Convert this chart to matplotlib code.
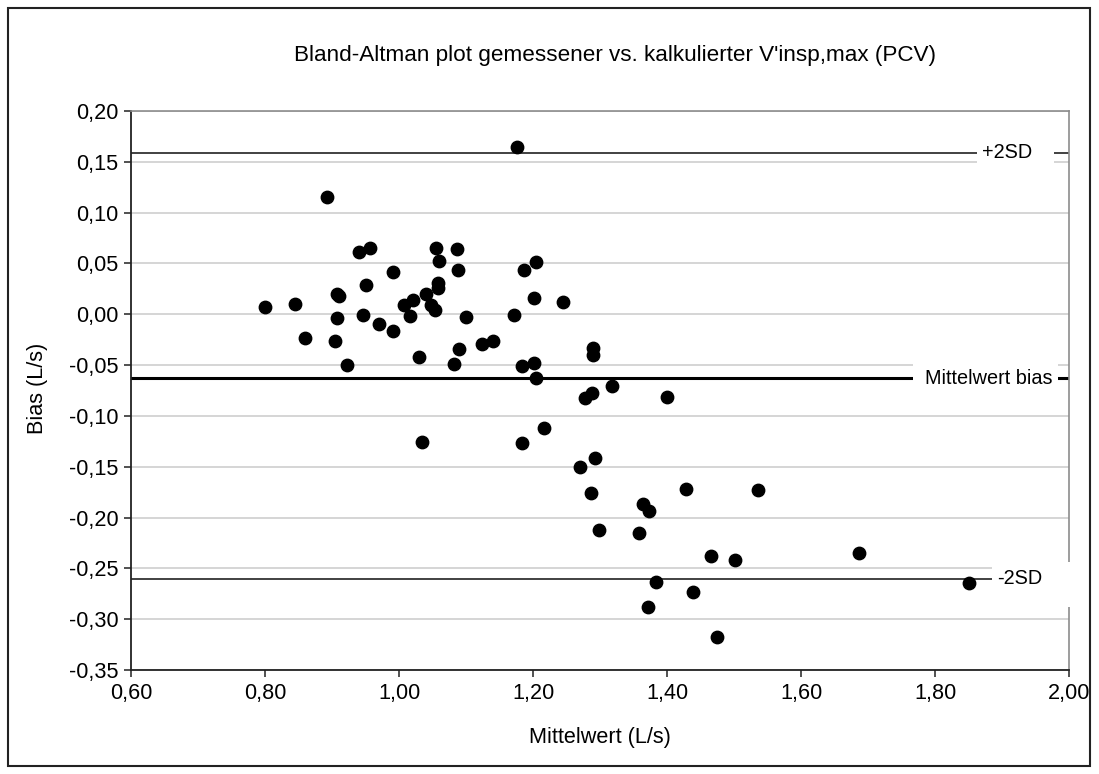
import matplotlib
matplotlib.use("Agg")
import matplotlib.pyplot as plt
from matplotlib.patches import Rectangle
from matplotlib.ticker import FuncFormatter, MultipleLocator

plt.rcParams['font.family'] = ['Liberation Sans', 'DejaVu Sans']

# Data (Mittelwert, Bias)
mittelwert = [0.893, 0.940, 0.957, 0.950, 0.907, 0.910, 0.800, 0.845, 0.908, 0.946,
              0.970, 0.859, 0.905, 0.922,
              1.176, 1.055, 1.087, 1.059, 0.991, 1.088, 1.187, 1.204, 1.058, 1.058,
              1.040, 1.021, 1.008, 1.048, 1.053, 1.202, 1.245, 1.016, 0.991, 1.100,
              1.172, 1.030, 1.090, 1.082, 1.124, 1.140, 1.184, 1.201, 1.204,
              1.290, 1.290, 1.277, 1.288, 1.318, 1.400, 1.035, 1.184, 1.216, 1.270,
              1.292, 1.286, 1.428, 1.536, 1.364, 1.373, 1.299, 1.358, 1.466, 1.502,
              1.383, 1.439, 1.371, 1.474, 1.687, 1.851]
bias = [0.115, 0.061, 0.065, 0.029, 0.020, 0.018, 0.007, 0.010, -0.004, -0.001,
        -0.010, -0.023, -0.026, -0.050,
        0.165, 0.065, 0.064, 0.052, 0.042, 0.0435, 0.0435, 0.051, 0.031, 0.0255,
        0.020, 0.014, 0.009, 0.009, 0.0045, 0.016, 0.012, -0.002, -0.016, -0.003,
        -0.001, -0.042, -0.034, -0.049, -0.029, -0.026, -0.051, -0.048, -0.0625,
        -0.033, -0.040, -0.082, -0.0775, -0.071, -0.081, -0.1255, -0.1265, -0.112, -0.150,
        -0.141, -0.1755, -0.172, -0.1725, -0.1865, -0.194, -0.212, -0.2155, -0.238, -0.242,
        -0.263, -0.273, -0.2885, -0.318, -0.235, -0.264]

mean_bias = -0.063
upper_sd = 0.159
lower_sd = -0.260

title = "Bland-Altman plot gemessener vs. kalkulierter V'insp,max (PCV)"
xlabel = "Mittelwert (L/s)"
ylabel = "Bias (L/s)"

W, H = 1099, 774
fig = plt.figure(figsize=(W / 100, H / 100), dpi=100)
L, R, T, B = 131, 1069, 111, 670
ax = fig.add_axes([L / W, 1 - B / H, (R - L) / W, (B - T) / H])

ax.set_xlim(0.60, 2.00)
ax.set_ylim(-0.35, 0.20)
ax.xaxis.set_major_locator(MultipleLocator(0.2))
ax.yaxis.set_major_locator(MultipleLocator(0.05))
fmt = FuncFormatter(lambda v, p: f"{v:.2f}".replace('.', ',').replace('-0,00', '0,00'))
ax.xaxis.set_major_formatter(fmt)
ax.yaxis.set_major_formatter(fmt)

ax.grid(axis='y', color='#d2d2d2', linewidth=1.3, zorder=0)
ax.set_axisbelow(True)

ax.tick_params(axis='both', direction='out', length=5, width=1.2, color='#333333',
               labelsize=15.6, pad=4)
for s in ['left', 'bottom']:
    ax.spines[s].set_color('#222222')
    ax.spines[s].set_linewidth(1.3)
for s in ['top', 'right']:
    ax.spines[s].set_color('#8c8c8c')
    ax.spines[s].set_linewidth(1.2)

ax.axhline(upper_sd, color='#333333', linewidth=1.3, zorder=2)
ax.axhline(lower_sd, color='#333333', linewidth=1.3, zorder=2)
ax.axhline(mean_bias, color='black', linewidth=2.2, zorder=2)

ax.scatter(mittelwert, bias, s=80, color='black', zorder=5, clip_on=False)

def px2x(px):
    return 0.60 + (px - L) / (R - L) * 1.40

def px2y(py):
    return 0.20 - (py - T) / (B - T) * 0.55

def label_box(x0, x1, y0, y1, text, tx, ty):
    ax.add_patch(Rectangle((px2x(x0), px2y(y1)), px2x(x1) - px2x(x0), px2y(y0) - px2y(y1),
                           facecolor='white', edgecolor='none', zorder=6, clip_on=False))
    ax.text(px2x(tx), ty, text, fontsize=14.3, va='center', ha='left', zorder=7)

label_box(977, 1054, 140, 166, "+2SD", 982, upper_sd)
label_box(913, 1058, 363, 395, "Mittelwert bias", 925, mean_bias)
label_box(992, 1075, 562, 607, "-2SD", 997, lower_sd)

fig.text(615 / W, 1 - 55 / H, title, ha='center', va='center', fontsize=16.2)
fig.text(600 / W, 1 - 738 / H, xlabel, ha='center', va='center', fontsize=15.6)
fig.text(38 / W, 1 - 388 / H, ylabel, ha='center', va='center', fontsize=15.6, rotation=90)

fig.add_artist(Rectangle((8 / W, 1 - 766 / H), (1090 - 8) / W, (766 - 8) / H,
                         transform=fig.transFigure, fill=False, edgecolor='#222222',
                         linewidth=1.5))

fig.savefig("out.png", dpi=100)
